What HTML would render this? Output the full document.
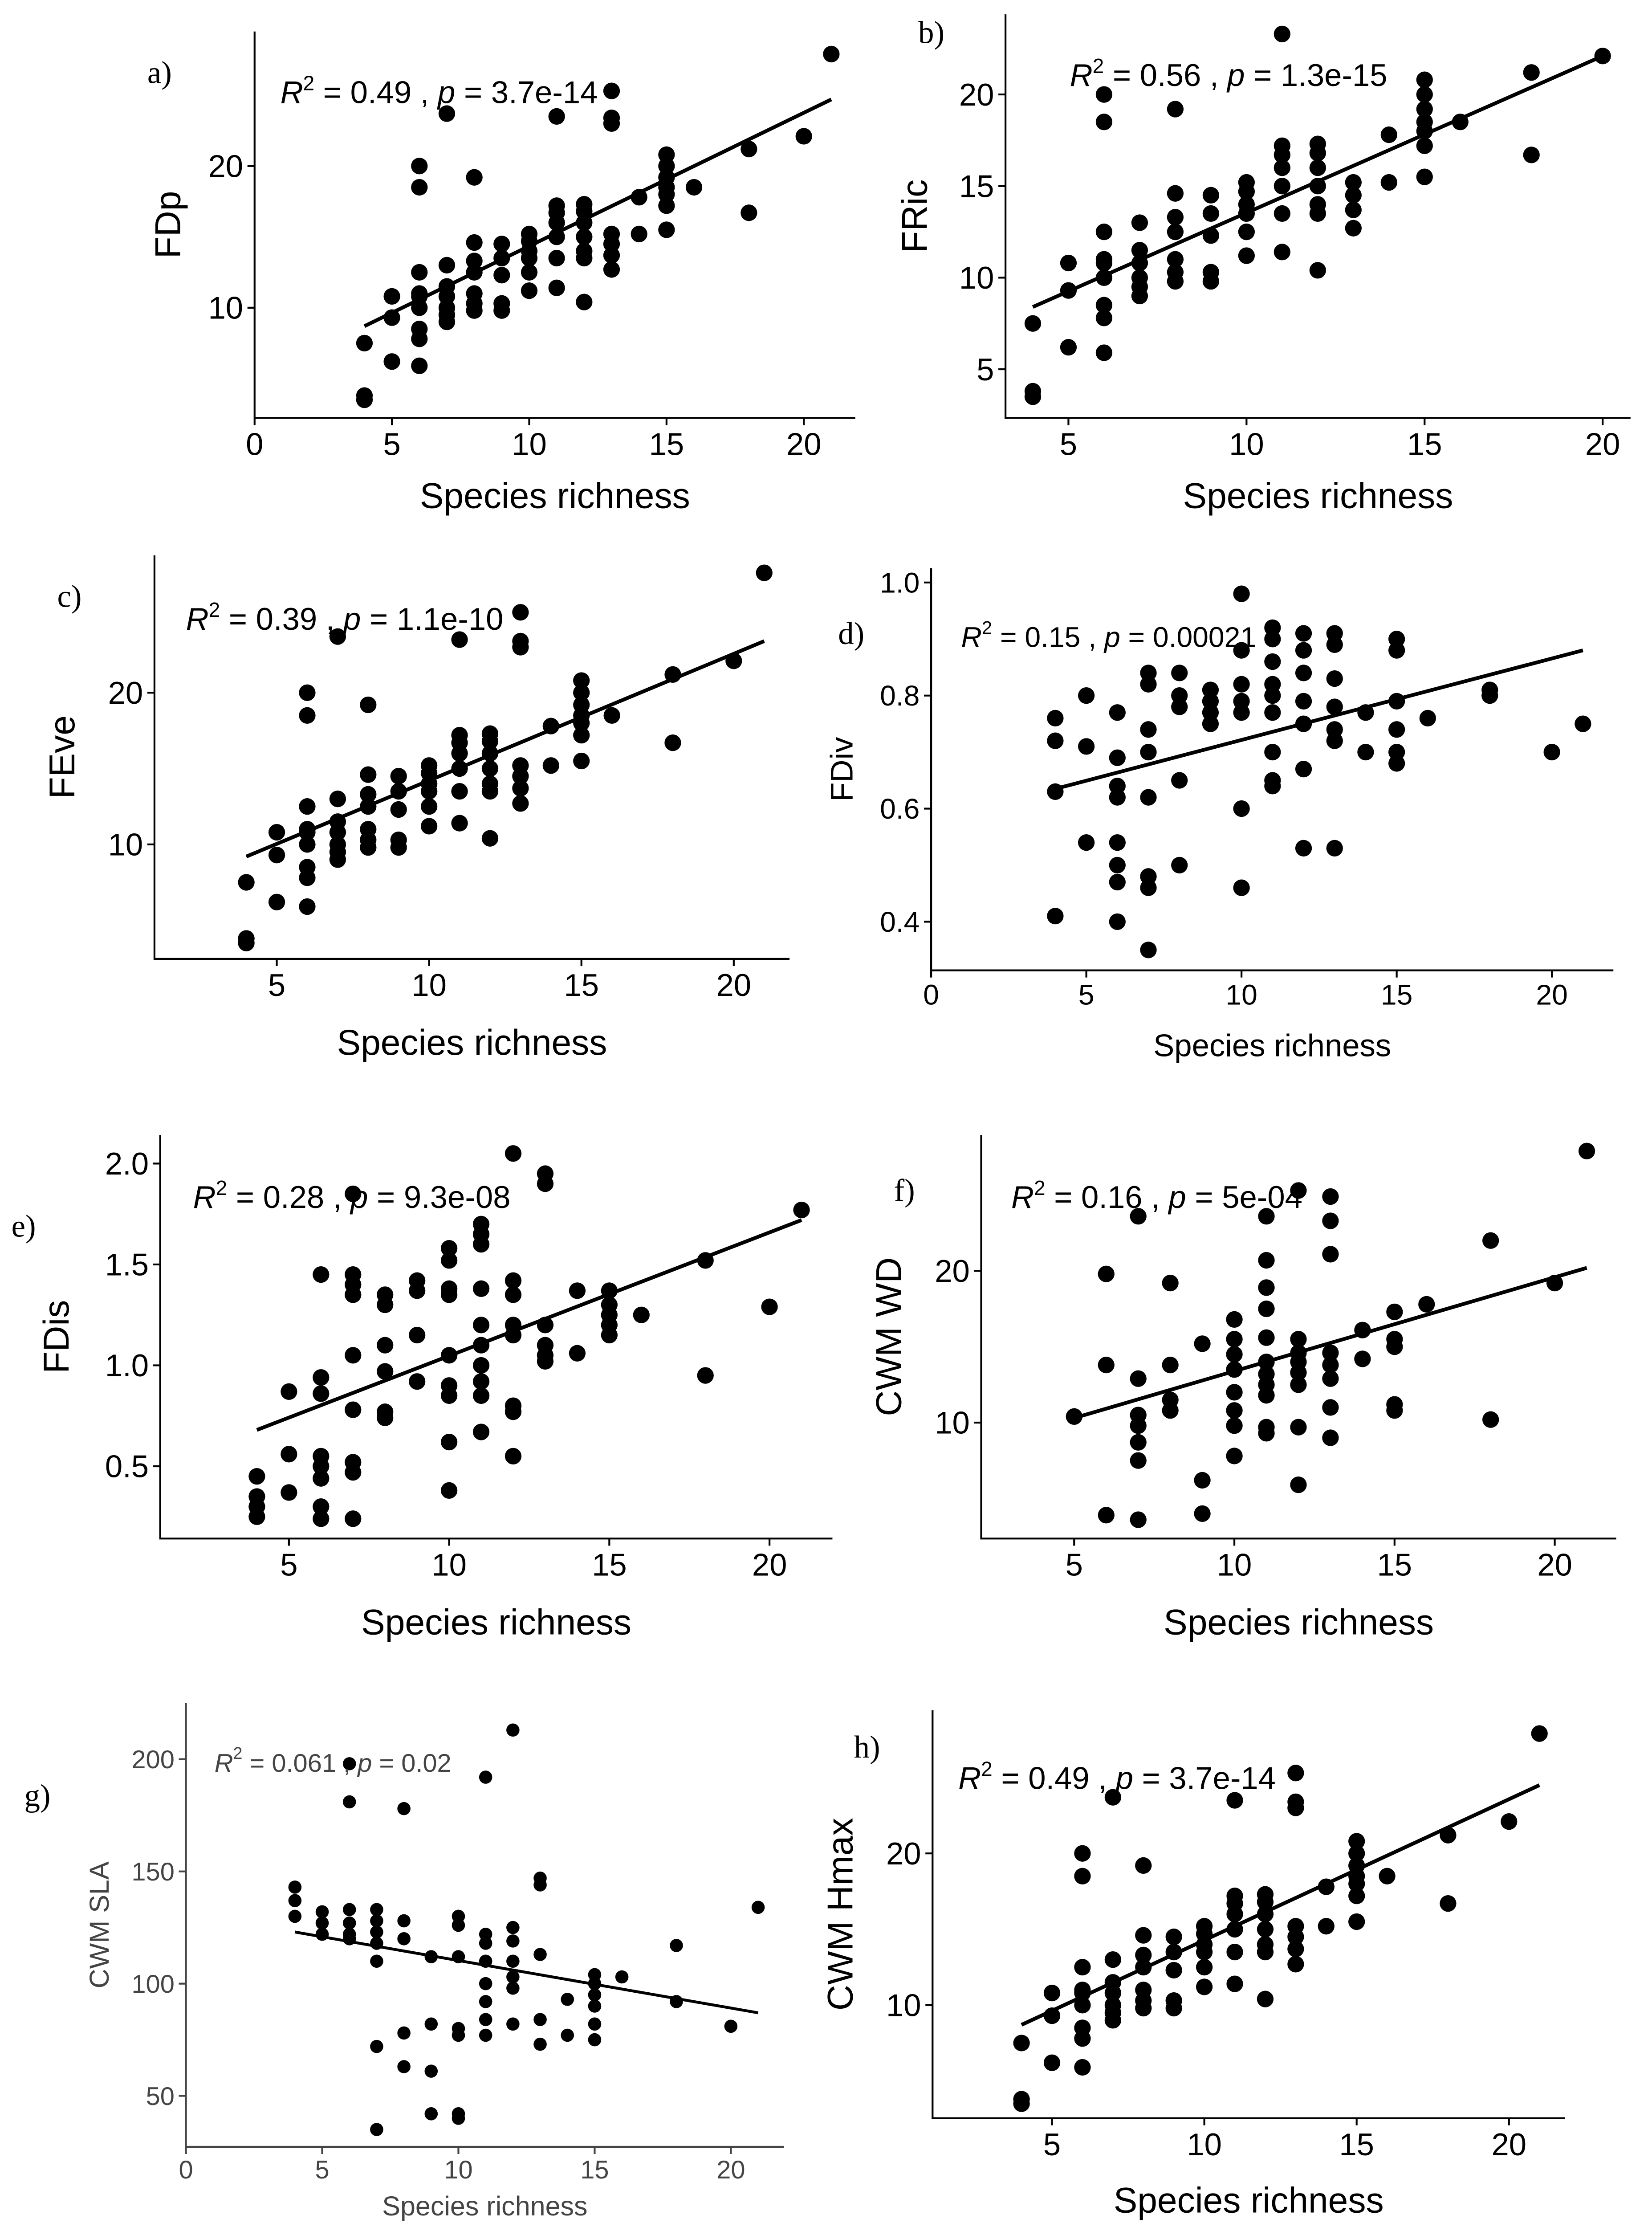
<!DOCTYPE html>
<html><head><meta charset="utf-8"><style>
html,body{margin:0;padding:0;background:#fff;overflow:hidden;}
svg{display:block;}
text{font-family:"Liberation Sans",sans-serif;}
.lab{font-family:"Liberation Serif",serif;}
</style></head><body>
<svg id="fig" xmlns="http://www.w3.org/2000/svg" width="3710" height="5032" viewBox="0 0 1155 1566" preserveAspectRatio="none"></svg>
<script>
// ---- data ----
const baseX = [4,4,4,5,5,5,6,6,6,6,6,6,6,6,6,7,7,7,7,7,7,7,8,8,8,8,8,8,8,9,9,9,9,9,10,10,10,10,10,10,11,11,11,11,11,11,11,12,12,12,12,12,12,12,13,13,13,13,13,13,13,14,14,15,15,15,15,15,15,15,16,18,18,20,21];
const baseY = [3.8,3.5,7.5,6.2,9.3,10.8,5.9,7.8,8.5,10,10.8,11,12.5,18.5,20,9,9.5,10,10.8,11.5,13,23.7,9.8,10.3,11,12.5,13.3,14.6,19.2,9.8,10.3,12.3,13.5,14.5,11.2,12.5,13.5,14,14.7,15.2,11.4,13.5,15,16,16.7,17.2,23.5,10.4,13.5,14,15,16,16.8,17.3,12.7,13.7,14.5,15.2,23,23.4,25.3,15.2,17.8,15.5,17.2,18,18.5,19.2,20,20.8,18.5,16.7,21.2,22.1,27.9];
const fdivX = [4,4,4,4,5,5,5,6,6,6,6,6,6,6,6,7,7,7,7,7,7,7,7,8,8,8,8,8,9,9,9,9,10,10,10,10,10,10,10,11,11,11,11,11,11,11,11,11,12,12,12,12,12,12,12,13,13,13,13,13,13,13,14,14,15,15,15,15,15,15,16,18,18,20,21];
const fdivY = [0.76,0.72,0.63,0.41,0.8,0.71,0.54,0.77,0.69,0.64,0.62,0.54,0.5,0.47,0.4,0.84,0.82,0.74,0.7,0.62,0.48,0.46,0.35,0.84,0.8,0.78,0.65,0.5,0.81,0.79,0.77,0.75,0.98,0.88,0.82,0.79,0.77,0.6,0.46,0.92,0.9,0.86,0.82,0.8,0.77,0.7,0.65,0.64,0.91,0.88,0.84,0.79,0.75,0.67,0.53,0.91,0.89,0.83,0.78,0.74,0.72,0.53,0.77,0.7,0.9,0.88,0.79,0.74,0.7,0.68,0.76,0.81,0.8,0.7,0.75];
const fdisX = [4,4,4,4,5,5,5,6,6,6,6,6,6,6,6,7,7,7,7,7,7,7,7,7,8,8,8,8,8,8,9,9,9,9,10,10,10,10,10,10,10,10,10,11,11,11,11,11,11,11,11,11,11,12,12,12,12,12,12,12,12,13,13,13,13,13,13,14,14,15,15,15,15,15,16,18,18,20,21];
const fdisY = [0.45,0.35,0.3,0.25,0.87,0.56,0.37,1.45,0.94,0.86,0.55,0.5,0.44,0.3,0.24,1.85,1.45,1.4,1.35,1.05,0.78,0.52,0.47,0.24,1.35,1.3,1.1,0.97,0.77,0.74,1.42,1.37,1.15,0.92,1.58,1.52,1.38,1.35,1.05,0.9,0.85,0.62,0.38,1.7,1.65,1.6,1.38,1.2,1.1,1.0,0.92,0.85,0.67,2.05,1.42,1.35,1.2,1.15,0.8,0.77,0.55,1.95,1.9,1.2,1.1,1.05,1.02,1.37,1.06,1.37,1.3,1.25,1.2,1.15,1.25,1.52,0.95,1.29,1.77];
const wdX = [5,6,6,6,7,7,7,7,7,7,7,8,8,8,8,9,9,9,10,10,10,10,10,10,10,10,11,11,11,11,11,11,11,11,11,11,11,12,12,12,12,12,12,12,12,13,13,13,13,13,13,13,13,14,14,15,15,15,15,15,16,18,18,20,21];
const wdY = [10.4,19.8,13.8,3.9,23.6,12.9,10.5,9.8,8.7,7.5,3.6,19.2,13.8,11.5,10.8,15.2,6.2,4,16.8,15.5,14.5,13.5,12,10.8,9.8,7.8,23.6,20.7,18.9,17.5,15.6,14,13.2,12.5,11.8,9.7,9.3,25.3,15.5,14.6,14,13.3,12.5,9.7,5.9,24.9,23.3,21.1,14.6,13.8,12.9,11,9,16.1,14.2,17.3,15.5,15,11.2,10.8,17.8,22,10.2,19.2,27.9];
const slaX = [4,4,4,5,5,5,6,6,6,6,6,6,7,7,7,7,7,7,7,8,8,8,8,8,9,9,9,9,10,10,10,10,10,10,10,11,11,11,11,11,11,11,11,12,12,12,12,12,12,12,13,13,13,13,13,14,14,15,15,15,15,15,15,16,18,18,20,21];
const slaY = [143,137,130,132,127,122,198,181,133,127,122,120,133,128,123,118,110,72,35,178,128,120,78,63,112,82,61,42,130,126,112,80,77,42,40,192,122,118,110,100,92,84,77,213,125,119,110,103,98,82,147,144,113,84,73,93,77,104,100,95,90,82,75,103,117,92,81,134];
const fricX = [4,4,4,5,5,5,6,6,6,6,6,6,6,6,6,7,7,7,7,7,7,8,8,8,8,8,8,8,9,9,9,9,9,10,10,10,10,10,10,11,11,11,11,11,11,11,12,12,12,12,12,12,12,13,13,13,13,14,14,15,15,15,15,15,15,15,16,18,18,20];
const fricY = [3.8,3.5,7.5,6.2,9.3,10.8,5.9,7.8,8.5,10,10.8,11,12.5,18.5,20,9,9.5,10,10.8,11.5,13,9.8,10.3,11,12.5,13.3,14.6,19.2,9.8,10.3,12.3,13.5,14.5,11.2,12.5,13.5,14,14.7,15.2,11.4,13.5,15,16,16.7,17.2,23.3,10.4,13.5,14,15,16,16.8,17.3,12.7,13.7,14.5,15.2,15.2,17.8,15.5,17.2,18,18.5,19.2,20,20.8,18.5,16.7,21.2,22.1];
const xTicksA = [0,5,10,15,20], xTicksB = [5,10,15,20];
const yTicksFD = [10,20], yTicksFRic = [5,10,15,20], yTicksDiv = [0.4,0.6,0.8,1.0], yTicksDivLab = ["0.4","0.6","0.8","1.0"];
const yTicksDis = [0.5,1.0,1.5,2.0], yTicksDisLab = ["0.5","1.0","1.5","2.0"], yTicksSLA = [50,100,150,200];
const fitA=[4,8.7,21,24.7], fitB=[4,8.4,20,22.1], fitC=[4,9.2,21,23.4], fitD=[4,0.635,21,0.88], fitE=[4,0.68,21,1.72], fitF=[5,10.3,21,20.2], fitG=[4,123,21,87], fitH=[4,8.7,21,24.5];

const NS="http://www.w3.org/2000/svg", svg=document.getElementById('fig');
function mk(tag,at,parent){const e=document.createElementNS(NS,tag);for(const k in at)e.setAttribute(k,at[k]);(parent||svg).appendChild(e);return e;}

function panel(p){
  const g=mk('g',{});
  
  
  const sx=v=>p.x0+(v-p.xv0)*p.xs, sy=v=>p.y0-(v-p.yv0)*p.ys;
  const col=p.col||'#000', fs=p.fs||22;
  const ax=mk('path',{d:`M${p.L},${p.T}V${p.B}H${p.R}`,fill:'none',stroke:col,'stroke-width':1.3},g);
  
  
  p.xt.forEach(t=>{const x=sx(t);
    mk('line',{x1:x,y1:p.B,x2:x,y2:p.B+5,stroke:col,'stroke-width':1.3},g);
    const tx=mk('text',{x:x,y:p.B+5+fs*0.95,'font-size':fs,'text-anchor':'middle',fill:col},g);tx.textContent=t;
    
    });
  p.yt.forEach((t,i)=>{const y=sy(t);
    mk('line',{x1:p.L-5,y1:y,x2:p.L,y2:y,stroke:col,'stroke-width':1.3},g);
    const tx=mk('text',{x:p.L-8,y:y+fs*0.35,'font-size':fs,'text-anchor':'end',fill:col},g);tx.textContent=p.yl?p.yl[i]:t;
    
    });
  p.dx.forEach((v,i)=>{const c=mk('circle',{cx:sx(v),cy:sy(p.dy[i]),r:p.r||5.8,fill:'#000'},g);
    
    });
  const f=p.fit, ln=mk('line',{x1:sx(f[0]),y1:sy(f[1]),x2:sx(f[2]),y2:sy(f[3]),stroke:'#000','stroke-width':p.lw||2.6},g);
  
  
  const xt=mk('text',{x:(p.L+p.R)/2,y:p.xty,'font-size':p.tfs||25,'text-anchor':'middle',fill:col},g);xt.textContent='Species richness';
  
  
  const yt=mk('text',{x:0,y:0,'font-size':p.tfs||25,'text-anchor':'middle',fill:col,transform:`translate(${p.ytx},${(p.T+p.B)/2}) rotate(-90)`},g);yt.textContent=p.ylab;
  
  
  const st=mk('text',{x:p.sx,y:p.sy,'font-size':p.sfs||22,fill:col},g);
  st.innerHTML=`<tspan font-style="italic">R</tspan><tspan dy="-9" font-size="${(p.sfs||22)*0.65}">2</tspan><tspan dy="9"> = ${p.r2} , </tspan><tspan font-style="italic">p</tspan><tspan> = ${p.pv}</tspan>`;
  
  
  const lb=mk('text',{x:p.lx,y:p.ly,'font-size':22,class:'lab',fill:'#000'},g);lb.textContent=p.id+')';
  
  
}

panel({id:'a',L:178,R:598,T:22,B:292,x0:178,xv0:0,xs:19.2,y0:215,yv0:10,ys:9.9,xt:xTicksA,yt:yTicksFD,dx:baseX,dy:baseY,fit:fitA,xty:355,ytx:126,ylab:'FDp',sx:196,sy:72,r2:'0.49',pv:'3.7e-14',lx:103,ly:58});
panel({id:'b',L:703,R:1140,T:10,B:292,x0:747,xv0:5,xs:24.9,y0:194,yv0:10,ys:12.8,xt:xTicksB,yt:yTicksFRic,dx:fricX,dy:fricY,fit:fitB,xty:355,ytx:648,ylab:'FRic',sx:748,sy:60,r2:'0.56',pv:'1.3e-15',lx:642,ly:30});
panel({id:'c',L:108,R:552,T:388,B:670,x0:300,xv0:10,xs:21.3,y0:590,yv0:10,ys:10.6,xt:xTicksB,yt:yTicksFD,dx:baseX,dy:baseY,fit:fitC,xty:737,ytx:52,ylab:'FEve',sx:130,sy:440,r2:'0.39',pv:'1.1e-10',lx:40,ly:424});
panel({id:'d',L:651,R:1128,T:397,B:678,x0:651,xv0:0,xs:21.7,y0:486,yv0:0.8,ys:395,xt:xTicksA,yt:yTicksDiv,yl:yTicksDivLab,dx:fdivX,dy:fdivY,fit:fitD,xty:738,ytx:596,ylab:'FDiv',sx:672,sy:452,sfs:20,fs:20,tfs:22,r2:'0.15',pv:'0.00021',lx:586,ly:450});
panel({id:'e',L:112,R:582,T:793,B:1075,x0:314,xv0:10,xs:22.4,y0:954,yv0:1.0,ys:141,xt:xTicksB,yt:yTicksDis,yl:yTicksDisLab,dx:fdisX,dy:fdisY,fit:fitE,xty:1142,ytx:48,ylab:'FDis',sx:135,sy:844,r2:'0.28',pv:'9.3e-08',lx:8,ly:864});
panel({id:'f',L:686,R:1130,T:793,B:1075,x0:863,xv0:10,xs:22.4,y0:994,yv0:10,ys:10.6,xt:xTicksB,yt:yTicksFD,dx:wdX,dy:wdY,fit:fitF,xty:1142,ytx:630,ylab:'CWM WD',sx:707,sy:844,r2:'0.16',pv:'5e-04',lx:625,ly:839});
panel({id:'g',L:130,R:548,T:1190,B:1500,x0:130,xv0:0,xs:19.05,y0:1386,yv0:100,ys:1.568,xt:xTicksA,yt:yTicksSLA,dx:slaX,dy:slaY,fit:fitG,xty:1548,ytx:76,ylab:'CWM SLA',sx:150,sy:1238,sfs:18,fs:18,tfs:19,r:4.6,lw:2,col:'#444',r2:'0.061',pv:'0.02',lx:17,ly:1262});
panel({id:'h',L:652,R:1094,T:1195,B:1480,x0:842,xv0:10,xs:21.3,y0:1401,yv0:10,ys:10.6,xt:xTicksB,yt:yTicksFD,dx:baseX,dy:baseY,fit:fitH,xty:1546,ytx:596,ylab:'CWM Hmax',sx:670,sy:1250,r2:'0.49',pv:'3.7e-14',lx:597,ly:1228});
</script>
</body></html>
